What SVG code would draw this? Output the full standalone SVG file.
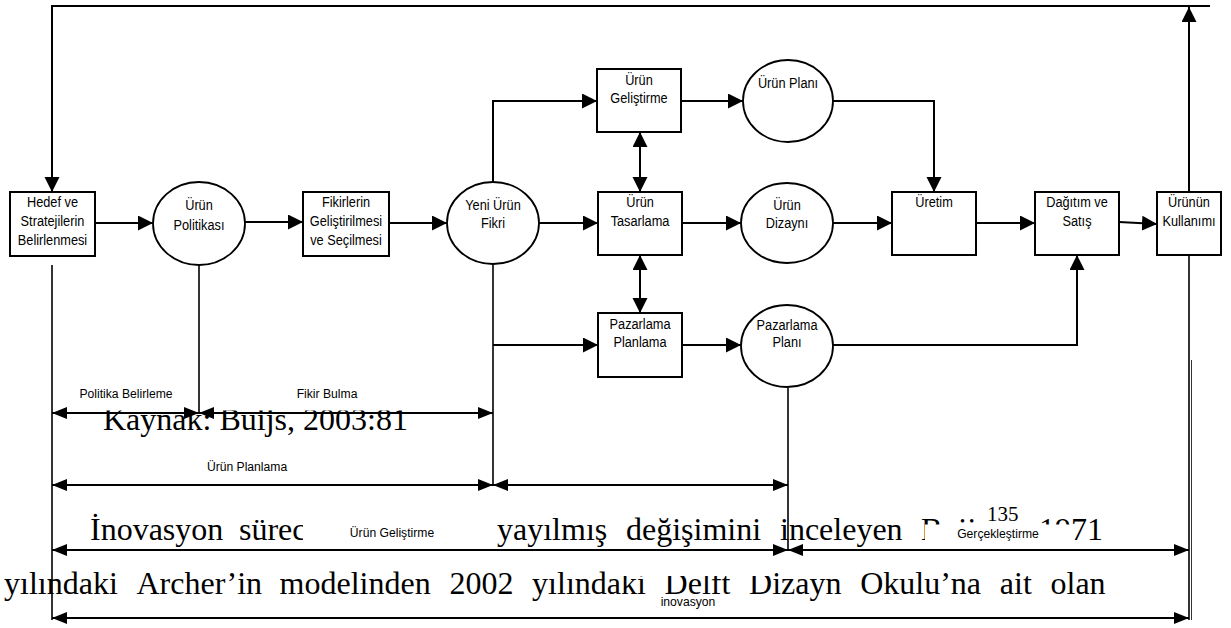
<svg xmlns="http://www.w3.org/2000/svg" width="1231" height="628" viewBox="0 0 1231 628">
<defs>
<style>
.bg{fill:#fff}
.box{fill:#fff;stroke:#000;stroke-width:2}
.ell{fill:#fff;stroke:#000;stroke-width:1.8}
.c{fill:none;stroke:#000;stroke-width:2}
.v{fill:none;stroke:#000;stroke-width:1.6}
.thin{fill:none;stroke:#000;stroke-width:0.8}
.arr{marker-end:url(#ah)}
.dim{fill:none;stroke:#000;stroke-width:2;marker-start:url(#dh);marker-end:url(#dh)}
.n{font-family:"Liberation Sans",Arial,sans-serif;font-size:14.5px;text-anchor:middle;fill:#000;transform-box:fill-box;transform-origin:center;transform:scaleX(0.88)}
.l{font-family:"Liberation Sans",Arial,sans-serif;font-size:13.5px;text-anchor:middle;fill:#000;transform-box:fill-box;transform-origin:center;transform:scaleX(0.9)}
.b{font-family:"Liberation Serif","Times New Roman",serif;font-size:32px;fill:#000}
.sup{font-family:"Liberation Serif","Times New Roman",serif;font-size:21px;fill:#000}
.mask{fill:#fff}
</style>
<marker id="ah" markerUnits="userSpaceOnUse" viewBox="0 0 16 16" markerWidth="16" markerHeight="16" refX="15" refY="7.5" orient="auto-start-reverse"><path d="M0,0 L15,7.5 L0,15 z" fill="#000"/></marker>
<marker id="dh" markerUnits="userSpaceOnUse" viewBox="0 0 16 14" markerWidth="16" markerHeight="14" refX="15" refY="6" orient="auto-start-reverse"><path d="M0,0 L15,6 L0,12 z" fill="#000"/></marker>
<clipPath id="kclip"><rect x="0" y="410.5" width="600" height="40"/></clipPath>
</defs>
<rect class="bg" x="0" y="0" width="1231" height="628"/>

<g id="body-text">
<text class="b" x="103" y="430" clip-path="url(#kclip)">Kaynak: Buijs, 2003:81</text>
<text class="b" y="540"><tspan x="90">İnovasyon</tspan><tspan x="239">süreci</tspan><tspan x="497">yayılmış</tspan><tspan x="626">değişimini</tspan><tspan x="780">inceleyen</tspan><tspan x="921">Buijs</tspan><tspan x="1039">1971</tspan></text>
<text class="sup" x="987" y="521">135</text>
<text class="b" y="594"><tspan x="4">yılındaki</tspan><tspan x="136.5">Archer’in</tspan><tspan x="279.6">modelinden</tspan><tspan x="449.4">2002</tspan><tspan x="532.1">yılındaki</tspan><tspan x="664.6">Delft</tspan><tspan x="749.1">Dizayn</tspan><tspan x="860.2">Okulu’na</tspan><tspan x="999.8">ait</tspan><tspan x="1050.5">olan</tspan></text>
</g>

<g id="masks">
<rect class="mask" x="303" y="505" width="167" height="43"/>
<rect class="mask" x="925" y="524.5" width="146" height="24"/>
<rect class="mask" x="605" y="553" width="166" height="23"/>
</g>

<g id="connectors">
<path class="c arr" d="M1210,6 L52,6 L52,192"/>
<path class="c arr" d="M1189,192 L1189,7"/>
<path class="c arr" d="M95,223 L153,223"/>
<path class="c arr" d="M245,222 L303,222"/>
<path class="c arr" d="M389,223 L447,223"/>
<path class="c arr" d="M493,182 L493,101 L597,101"/>
<path class="c arr" d="M539,223 L598,223"/>
<path class="c arr" d="M493,345 L598,345"/>
<path class="c arr" d="M681,101 L743,101"/>
<path class="c" d="M640,132 L640,192" marker-start="url(#ah)" marker-end="url(#ah)"/>
<path class="c" d="M640,255 L640,313" marker-start="url(#ah)" marker-end="url(#ah)"/>
<path class="c arr" d="M682,223 L741,223"/>
<path class="c arr" d="M682,345 L741,345"/>
<path class="c arr" d="M833,101 L934,101 L934,192"/>
<path class="c arr" d="M833,223 L892,223"/>
<path class="c arr" d="M833,345 L1077,345 L1077,255"/>
<path class="c arr" d="M976,223 L1035,223"/>
<path class="c arr" d="M1119,222 L1157,224"/>
<path class="v" d="M1189,255 L1189,620"/>
<path class="thin" d="M1191.5,360 L1191.5,620"/>
<path class="v" d="M52,265 L52,620"/>
<path class="v" d="M199,265 L199,413"/>
<path class="v" d="M493,264 L493,485"/>
<path class="v" d="M788,388 L788,550"/>
<path class="dim" d="M52,413 L199,413"/>
<path class="dim" d="M199,413 L493,413"/>
<path class="dim" d="M52,485 L493,485"/>
<path class="dim" d="M493,485 L788,485"/>
<path class="dim" d="M52,550 L788,550"/>
<path class="dim" d="M788,550 L1189,550"/>
<path class="dim" d="M52,618 L1189,618"/>
<text class="l" x="126" y="398">Politika Belirleme</text>
<text class="l" x="327" y="398">Fikir Bulma</text>
<text class="l" x="247" y="471">Ürün Planlama</text>
<text class="l" x="392" y="537">Ürün Geliştirme</text>
<text class="l" x="998" y="538">Gerçekleştirme</text>
<text class="l" x="688" y="606">inovasyon</text>
</g>

<g id="node-hedef">
<rect class="box" x="10" y="192" width="85" height="64"/>
<text class="n" x="52.5" y="207">Hedef ve</text>
<text class="n" x="52.5" y="226">Stratejilerin</text>
<text class="n" x="52.5" y="245">Belirlenmesi</text>
</g>
<g id="node-urun-politikasi">
<ellipse class="ell" cx="199" cy="223.5" rx="46" ry="41.5"/>
<text class="n" x="199" y="210">Ürün</text>
<text class="n" x="199" y="230">Politikası</text>
</g>
<g id="node-fikirlerin">
<rect class="box" x="303" y="192" width="86" height="64"/>
<text class="n" x="346" y="207">Fikirlerin</text>
<text class="n" x="346" y="226">Geliştirilmesi</text>
<text class="n" x="346" y="245">ve Seçilmesi</text>
</g>
<g id="node-yeni-urun-fikri">
<ellipse class="ell" cx="493" cy="223" rx="46" ry="41"/>
<text class="n" x="493" y="210">Yeni Ürün</text>
<text class="n" x="493" y="228">Fikri</text>
</g>
<g id="node-urun-gelistirme">
<rect class="box" x="597" y="69" width="84" height="63"/>
<text class="n" x="639" y="85">Ürün</text>
<text class="n" x="639" y="103">Geliştirme</text>
</g>
<g id="node-urun-plani">
<ellipse class="ell" cx="788" cy="101" rx="45" ry="41"/>
<text class="n" x="788" y="88">Ürün Planı</text>
</g>
<g id="node-urun-tasarlama">
<rect class="box" x="598" y="192" width="84" height="63"/>
<text class="n" x="640" y="207">Ürün</text>
<text class="n" x="640" y="226">Tasarlama</text>
</g>
<g id="node-urun-dizayni">
<ellipse class="ell" cx="787" cy="223" rx="46" ry="40"/>
<text class="n" x="787" y="210">Ürün</text>
<text class="n" x="787" y="228">Dizaynı</text>
</g>
<g id="node-pazarlama-planlama">
<rect class="box" x="598" y="313" width="84" height="64"/>
<text class="n" x="640" y="329">Pazarlama</text>
<text class="n" x="640" y="347">Planlama</text>
</g>
<g id="node-pazarlama-plani">
<ellipse class="ell" cx="787" cy="346" rx="46" ry="41"/>
<text class="n" x="787" y="330">Pazarlama</text>
<text class="n" x="787" y="347">Planı</text>
</g>
<g id="node-uretim">
<rect class="box" x="892" y="192" width="84" height="63"/>
<text class="n" x="934" y="207">Üretim</text>
</g>
<g id="node-dagitim">
<rect class="box" x="1035" y="192" width="84" height="63"/>
<text class="n" x="1077" y="207">Dağıtım ve</text>
<text class="n" x="1077" y="226">Satış</text>
</g>
<g id="node-urunun-kullanimi">
<rect class="box" x="1157" y="192" width="64" height="63"/>
<text class="n" x="1189" y="207">Ürünün</text>
<text class="n" x="1189" y="226">Kullanımı</text>
</g>
</svg>
